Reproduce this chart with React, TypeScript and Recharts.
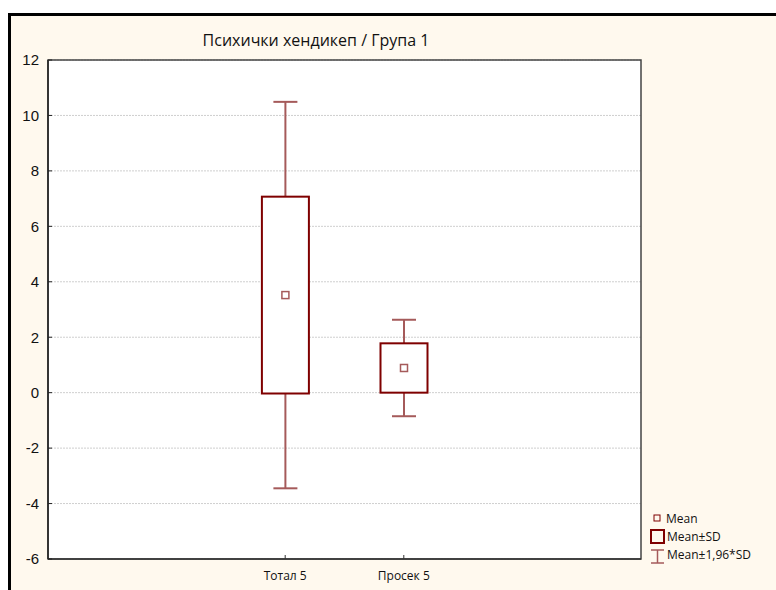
import React from 'react';
import { ComposedChart, Bar, XAxis, YAxis, CartesianGrid, ReferenceArea } from 'recharts';

const categories = ['Тотал 5', 'Просек 5'];
const positions = [2, 3];
const means = [3.52, 0.89];
const sdLow = [-0.03, 0.0];
const sdHigh = [7.07, 1.78];
const ciLow = [-3.45, -0.85];
const ciHigh = [10.49, 2.63];
const yTicks = [-6, -4, -2, 0, 2, 4, 6, 8, 10, 12];
const title = 'Психички хендикеп / Група 1';
const legendLabels = ['Mean', 'Mean±SD', 'Mean±1,96*SD'];

const data = categories.map((c, i) => ({
  name: c,
  pos: positions[i],
  mean: means[i],
  sdLow: sdLow[i],
  sdHigh: sdHigh[i],
  ciLow: ciLow[i],
  ciHigh: ciHigh[i],
  range: [ciLow[i], ciHigh[i]],
}));

const BOX = '#7f0000';
const WHISK = '#a55a5a';
const NARROW = "'Open Sans', sans-serif";

const BoxShape = (props: any) => {
  const { x, y, width, height, payload } = props;
  const p = payload;
  const ppu = height / (p.ciHigh - p.ciLow);
  const yp = (v: number) => y + (p.ciHigh - v) * ppu;
  const cx = x + width / 2;
  const cap = 12;
  const bTop = yp(p.sdHigh);
  const bBot = yp(p.sdLow);
  const my = yp(p.mean);
  return (
    <g>
      <line x1={cx} x2={cx} y1={yp(p.ciHigh)} y2={yp(p.ciLow)} stroke={WHISK} strokeWidth={2} />
      <line x1={cx - cap} x2={cx + cap} y1={yp(p.ciHigh)} y2={yp(p.ciHigh)} stroke={WHISK} strokeWidth={2} />
      <line x1={cx - cap} x2={cx + cap} y1={yp(p.ciLow)} y2={yp(p.ciLow)} stroke={WHISK} strokeWidth={2} />
      <rect x={x} y={bTop} width={width} height={bBot - bTop} fill="#ffffff" stroke={BOX} strokeWidth={2} />
      <rect x={cx - 3.5} y={my - 3.5} width={7} height={7} fill="#ffffff" stroke={WHISK} strokeWidth={1.5} />
    </g>
  );
};

const LegendBox = () => (
  <svg width={130} height={60} style={{ position: 'absolute', left: 645, top: 512, overflow: 'visible' }}>
    <rect x={9} y={3} width={6} height={6} fill="none" stroke={BOX} strokeWidth={1} />
    <text x={21} y={11} fontFamily={NARROW} fontSize={12} fill="#111">{legendLabels[0]}</text>
    <rect x={6} y={18} width={13} height={13} fill="none" stroke={BOX} strokeWidth={2} />
    <text x={22} y={29} fontFamily={NARROW} fontSize={12} fill="#111">{legendLabels[1]}</text>
    <line x1={12.5} x2={12.5} y1={38} y2={51} stroke={WHISK} strokeWidth={1.5} />
    <line x1={6} x2={19} y1={38} y2={38} stroke={WHISK} strokeWidth={1.5} />
    <line x1={6} x2={19} y1={51} y2={51} stroke={WHISK} strokeWidth={1.5} />
    <text x={22} y={47} fontFamily={NARROW} fontSize={12} fill="#111">{legendLabels[2]}</text>
  </svg>
);

export default function App() {
  return (
    <div style={{ position: 'absolute', left: 0, top: 0, width: 776, height: 590, background: '#ffffff', overflow: 'hidden' }}>
      <div style={{ position: 'absolute', left: 8, top: 13, width: 800, height: 600, borderLeft: '3px solid #000', borderTop: '3px solid #000', background: '#fff9ee' }} />
      <div style={{ position: 'absolute', left: 0, top: 0 }}>
        <ComposedChart width={776} height={590} data={data} margin={{ top: 60, right: 135, bottom: 1, left: 8 }}>
          <text x={316} y={46} textAnchor="middle" fontFamily={NARROW} fontSize={16} fill="#111">{title}</text>
          <CartesianGrid horizontal vertical={false} stroke="#cfcfcf" strokeDasharray="2 1" fill="#ffffff" />
          <XAxis
            type="number"
            dataKey="pos"
            domain={[0, 5]}
            ticks={positions}
            tickFormatter={(v: number) => categories[positions.indexOf(v)] ?? ''}
            allowDecimals={false}
            height={30}
            tickSize={-4}
            tickMargin={16}
            tickLine={{ stroke: '#333' }}
            axisLine={{ stroke: '#333', strokeWidth: 1.5 }}
            tick={{ fontFamily: NARROW, fontSize: 12, fill: '#111' }}
          />
          <YAxis
            type="number"
            domain={[-6, 12]}
            ticks={yTicks}
            width={40}
            tickSize={-4}
            tickMargin={13}
            tickLine={{ stroke: '#222' }}
            axisLine={{ stroke: '#222', strokeWidth: 1.5 }}
            tick={{ fontFamily: "'Liberation Sans', Arial, sans-serif", fontSize: 15, fill: '#111' }}
          />
          <ReferenceArea x1={0} x2={5} y1={-6} y2={12} fill="none" stroke="#444" strokeWidth={1.5} ifOverflow="visible" />
          <Bar dataKey="range" barSize={47} shape={<BoxShape />} isAnimationActive={false} />
        </ComposedChart>
      </div>
      <LegendBox />
    </div>
  );
}
